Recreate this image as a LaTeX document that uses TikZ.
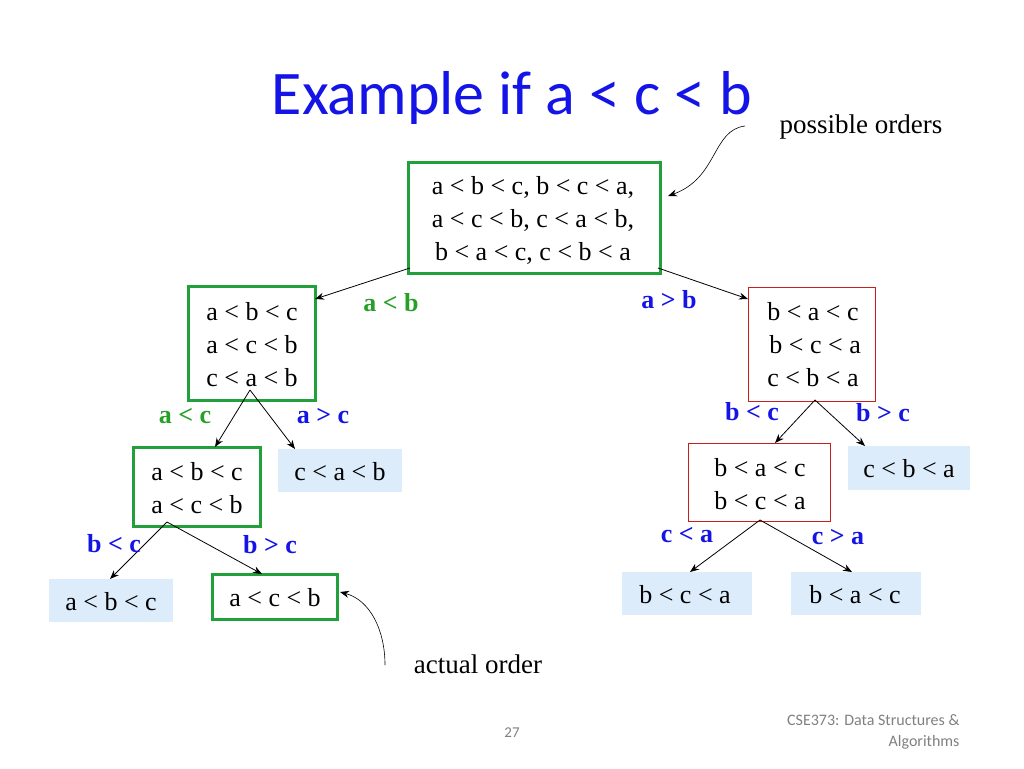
\documentclass[tikz,border=0pt]{standalone}
\usepackage{fontspec}
\setmainfont{Liberation Serif}
\newfontfamily\calfont{Carlito}
\usetikzlibrary{arrows.meta}
\definecolor{gbox}{RGB}{34,160,60}
\definecolor{rbox}{RGB}{200,30,30}
\definecolor{lbl}{RGB}{220,236,250}
\definecolor{tblue}{RGB}{20,20,230}
\definecolor{tgreen}{RGB}{40,160,40}
\begin{document}
\begin{tikzpicture}[x=1pt,y=-1pt,
 txt/.style={font=\fontsize{26}{33}\selectfont,align=center,inner sep=0pt},
 gbx/.style={draw=gbox,line width=3pt},
 rbx/.style={draw=rbox,line width=1pt},
 lbx/.style={fill=lbl},
 edge/.style={-{Stealth[length=9pt,width=7pt]},line width=0.8pt},
 lb/.style={font=\fontsize{26}{30}\selectfont\bfseries},
 lg/.style={lb,text=tgreen},
 lbb/.style={lb,text=tblue}]
\useasboundingbox (0,0) rectangle (1024,768);
\node[font=\calfont\fontsize{62}{66}\selectfont,text=tblue] (title) at (512,98) {Example if a < c < b};
% boxes
\draw[gbx] (408,162) rectangle (660,273);
\node[txt] (root) at (533,220) {a < b < c, b < c < a,\\a < c < b, c < a < b,\\b < a < c, c < b < a};
\draw[gbx] (188,286) rectangle (315,400);
\node[txt] (l1) at (252,345) {a < b < c\\a < c < b\\c < a < b};
\draw[rbx] (748,287) rectangle (875,401);
\node[txt] (r1) at (813,345) {b < a < c\\\,b < c < a\\c < b < a};
\draw[gbx] (133,447) rectangle (260,526);
\node[txt] (ll) at (197,488) {a < b < c\\a < c < b};
\fill[lbx] (278,449) rectangle (402,492);
\node[txt] (lr) at (340,472) {c < a < b};
\draw[rbx] (688,443) rectangle (830,521);
\node[txt] (rl) at (760,484) {b < a < c\\b < c < a};
\fill[lbx] (848,446) rectangle (970,490);
\node[txt] (rr) at (909,469) {c < b < a};
\fill[lbx] (49,579) rectangle (173,622);
\node[txt] (lll) at (111,602) {a < b < c};
\draw[gbx] (212,574) rectangle (337,619);
\node[txt] (llr) at (275,598) {a < c < b};
\fill[lbx] (622,572) rectangle (752,615);
\node[txt] (rll) at (685,595) {b < c < a};
\fill[lbx] (791,572) rectangle (921,615);
\node[txt] (rlr) at (855,595) {b < a < c};
% edge endpoints
\coordinate (a0) at (410,268); \coordinate (a1) at (315,299);
\coordinate (b0) at (658,268); \coordinate (b1) at (748,299);
\coordinate (c0) at (250,390); \coordinate (c1) at (215,447); \coordinate (c2) at (295,449);
\coordinate (d0) at (815,400); \coordinate (d1) at (775,443); \coordinate (d2) at (865,446);
\coordinate (e0) at (167,522); \coordinate (e1) at (110,579); \coordinate (e2) at (262,574);
\coordinate (f0) at (760,520); \coordinate (f1) at (690,572); \coordinate (f2) at (852,572);
\foreach \s/\t in {a0/a1,b0/b1,c0/c1,c0/c2,d0/d1,d0/d2,e0/e1,e0/e2,f0/f1,f0/f2} \draw[edge] (\s) -- (\t);
% labels
\node[lg] (la) at (391,303) {a < b};
\node[lbb] (lb2) at (669,300) {a > b};
\node[lg] (lc) at (185,416) {a < c};
\node[lbb] (ld) at (323,416) {a > c};
\node[lbb] (le) at (752,412) {b < c};
\node[lbb] (lf) at (883,413) {b > c};
\node[lbb] (lg1) at (114,544) {b < c};
\node[lbb] (lh) at (270,545) {b > c};
\node[lbb] (li) at (687,535) {c < a};
\node[lbb] (lj) at (838,537) {c > a};
% annotations
\node[font=\fontsize{27}{30}\selectfont] (po) at (861,127) {possible orders};
\coordinate (p0) at (745,126); \coordinate (p1) at (668,196);
\draw[edge,line width=0.6pt] (p0) .. controls (712,130) and (718,178) .. (p1);
\node[font=\fontsize{27}{30}\selectfont] (ao) at (478,664) {actual order};
\coordinate (q0) at (385,665); \coordinate (q1) at (340,592);
\draw[edge,line width=0.6pt] (q0) .. controls (385,630) and (370,600) .. (q1);
\node[font=\calfont\fontsize{15}{17}\selectfont,text=gray] (pg) at (512,733) {27};
\node[font=\calfont\fontsize{16}{21}\selectfont,text=gray,align=right,anchor=east] (ft) at (963,732) {CSE373: Data Structures \&\\Algorithms};
\end{tikzpicture}
\end{document}
